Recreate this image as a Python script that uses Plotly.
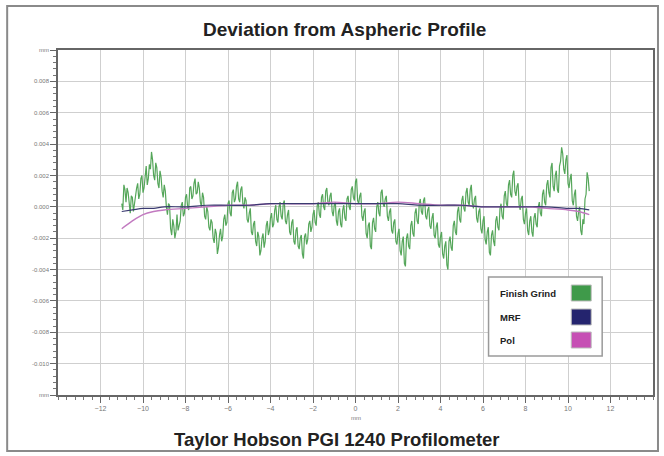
import numpy as np
import plotly.graph_objects as go

# Finish Grind deviation (mm), samples at -11.0, -10.9, ..., 11.0
finish_grind_a = [
    0.0002, 0.0014, 0.0003, 0.0009, -0.0004, 0.0006, 0.0002, 0.0012, 0.0005, 0.0018,
    0.0009, 0.0022, 0.0014, 0.0027, 0.0035, 0.0020, 0.0028, 0.0015, 0.0023, 0.0010,
    0.0014, 0.0000, 0.0002, -0.0014, -0.0008, -0.0020, -0.0005, -0.0012, 0.0001, -0.0006,
    0.0006, 0.0000, 0.0012, 0.0005, 0.0015, 0.0008, 0.0016, 0.0003, 0.0009, -0.0006,
    0.0000, -0.0013, -0.0008, -0.0020, -0.0014, -0.0030, -0.0018, -0.0022, -0.0008, -0.0012,
    0.0002, -0.0004, 0.0009, 0.0003, 0.0013, 0.0005, 0.0011, 0.0002, 0.0006, -0.0008,
    -0.0004, -0.0016, -0.0011, -0.0022, -0.0016, -0.0031, -0.0020, -0.0026, -0.0012, -0.0018,
    -0.0007, -0.0013, -0.0002, -0.0008, 0.0000, -0.0006, 0.0002, -0.0009, -0.0005, -0.0016,
    -0.0010, -0.0022, -0.0015, -0.0025, -0.0020, -0.0030, -0.0019, -0.0024, -0.0011, -0.0016,
    -0.0005, -0.0010, 0.0001, -0.0005, 0.0006, 0.0000, 0.0010, 0.0003, 0.0007, -0.0003,
    0.0001, -0.0009, -0.0003, -0.0011, -0.0002, -0.0007, 0.0005, 0.0000, 0.0011, 0.0006,
    0.0016, 0.0004, 0.0007, -0.0006, -0.0003, -0.0017, -0.0012, -0.0025, -0.0010, -0.0014,
    0.0000, -0.0004, 0.0009, 0.0002, 0.0005, -0.0006, -0.0003, -0.0015, -0.0010, -0.0022,
    -0.0017, -0.0028, -0.0022, -0.0036, -0.0020, -0.0025, -0.0012, -0.0017, -0.0004, -0.0009,
    0.0002, -0.0003, 0.0004, -0.0006, -0.0002, -0.0012, -0.0007, -0.0018, -0.0013, -0.0024,
    -0.0019, -0.0030, -0.0025, -0.0037, -0.0022, -0.0026, -0.0012, -0.0016, -0.0003, -0.0008,
    0.0004, -0.0001, 0.0009, 0.0003, 0.0011, 0.0002, 0.0005, -0.0007, -0.0003, -0.0014,
    -0.0009, -0.0021, -0.0016, -0.0029, -0.0018, -0.0022, -0.0009, -0.0013, -0.0001, -0.0006,
    0.0007, 0.0002, 0.0014, 0.0008, 0.0020, 0.0010, 0.0013, 0.0001, 0.0005, -0.0008,
    -0.0004, -0.0015, -0.0009, -0.0016, -0.0007, -0.0011, 0.0000, -0.0004, 0.0008, 0.0003,
    0.0014, 0.0009, 0.0025, 0.0013, 0.0020, 0.0011, 0.0026, 0.0038, 0.0024, 0.0030,
    0.0015, 0.0018, 0.0004, 0.0008, -0.0006, -0.0003, -0.0015, -0.0008, 0.0005, 0.0022,
    0.0010,
]
# Finish Grind deviation (mm), samples at -10.95, -10.85, ..., 10.95
finish_grind_b = [
    -0.0002, 0.0011, 0.0012, -0.0001, 0.0007, -0.0003, 0.0010, 0.0015, 0.0008, 0.0020,
    0.0012, 0.0026, 0.0018, 0.0024, 0.0030, 0.0017, 0.0025, 0.0012, 0.0019, 0.0006,
    0.0010, -0.0005, 0.0001, -0.0018, -0.0012, -0.0016, -0.0015, -0.0009, 0.0003, -0.0004,
    0.0008, -0.0002, 0.0013, 0.0007, 0.0018, 0.0009, 0.0012, 0.0000, 0.0006, -0.0008,
    -0.0003, -0.0015, -0.0010, -0.0023, -0.0017, -0.0026, -0.0014, -0.0019, -0.0005, -0.0010,
    0.0004, -0.0006, 0.0011, 0.0005, 0.0016, 0.0003, 0.0013, -0.0001, 0.0004, -0.0010,
    -0.0001, -0.0018, -0.0009, -0.0025, -0.0019, -0.0028, -0.0017, -0.0022, -0.0009, -0.0015,
    -0.0004, -0.0011, 0.0001, -0.0010, 0.0003, -0.0008, 0.0004, -0.0011, -0.0002, -0.0018,
    -0.0008, -0.0024, -0.0013, -0.0027, -0.0018, -0.0033, -0.0017, -0.0021, -0.0009, -0.0013,
    -0.0002, -0.0012, 0.0003, -0.0007, 0.0008, -0.0002, 0.0012, 0.0001, 0.0009, -0.0006,
    0.0003, -0.0012, -0.0001, -0.0013, 0.0001, -0.0009, 0.0007, -0.0002, 0.0013, 0.0004,
    0.0018, 0.0002, 0.0009, -0.0009, -0.0001, -0.0020, -0.0010, -0.0027, -0.0007, -0.0016,
    0.0003, -0.0006, 0.0011, 0.0000, 0.0007, -0.0009, -0.0001, -0.0017, -0.0008, -0.0024,
    -0.0014, -0.0031, -0.0019, -0.0038, -0.0017, -0.0027, -0.0009, -0.0019, -0.0001, -0.0011,
    0.0005, -0.0005, 0.0006, -0.0008, 0.0000, -0.0014, -0.0004, -0.0020, -0.0010, -0.0026,
    -0.0016, -0.0033, -0.0022, -0.0040, -0.0019, -0.0028, -0.0009, -0.0018, 0.0000, -0.0010,
    0.0007, -0.0003, 0.0012, 0.0001, 0.0014, -0.0001, 0.0007, -0.0010, -0.0001, -0.0017,
    -0.0006, -0.0024, -0.0013, -0.0031, -0.0015, -0.0025, -0.0006, -0.0015, 0.0002, -0.0008,
    0.0010, 0.0000, 0.0017, 0.0006, 0.0023, 0.0007, 0.0015, -0.0002, 0.0007, -0.0011,
    -0.0001, -0.0018, -0.0006, -0.0019, -0.0004, -0.0013, 0.0003, -0.0006, 0.0011, 0.0001,
    0.0017, 0.0006, 0.0028, 0.0010, 0.0023, 0.0009, 0.0029, 0.0034, 0.0021, 0.0033,
    0.0012, 0.0021, 0.0001, 0.0011, -0.0009, 0.0000, -0.0018, -0.0011, 0.0008, 0.0018,
]

# Smooth profiles (mm)
smooth_x = [-11.0, -10.5, -10.0, -9.5, -9.0, -8.0, -7.0, -6.0, -5.0, -4.0, -3.0, -2.0,
            -1.0, 0.0, 1.0, 2.0, 3.0, 4.0, 5.0, 6.0, 7.0, 8.0, 9.0, 10.0, 10.5, 11.0]
mrf = [-0.0003, -0.0002, -0.0001, -0.0001, 0.0000, 0.0000, 0.0001, 0.0001, 0.0001, 0.0002,
       0.0002, 0.0002, 0.0002, 0.0002, 0.0002, 0.0002, 0.0001, 0.0001, 0.0001, 0.0000,
       0.0000, 0.0000, 0.0000, -0.0001, -0.0001, -0.0002]
pol = [-0.0014, -0.0009, -0.0005, -0.0003, -0.0002, -0.0001, 0.0000, 0.0001, 0.0001, 0.0002,
       0.0002, 0.0002, 0.0003, 0.0002, 0.0002, 0.0003, 0.0002, 0.0001, 0.0001, 0.0000,
       0.0000, 0.0000, -0.0001, -0.0002, -0.0003, -0.0005]

x_ticks = [-12, -10, -8, -6, -4, -2, 0, 2, 4, 6, 8, 10, 12]
y_ticks = [0.010, 0.008, 0.006, 0.004, 0.002, 0.000, -0.002, -0.004, -0.006, -0.008, -0.010, -0.012]
y_ticktext = ["mm", "0.008", "0.006", "0.004", "0.002", "0.000", "-0.002", "-0.004",
              "-0.006", "-0.008", "-0.010", "mm"]

series_names = ["Finish Grind", "MRF", "Pol"]
series_colors = ["#3f9a4a", "#24246e", "#c64fb4"]

# interleave the two sample sets in x order
finish_grind = []
for a_val, b_val in zip(finish_grind_a, finish_grind_b):
    finish_grind += [a_val, b_val]
finish_grind.append(finish_grind_a[-1])
grind_x = np.linspace(-11, 11, len(finish_grind))

fig = go.Figure()
fig.add_trace(go.Scatter(x=grind_x, y=finish_grind, mode="lines",
                         line=dict(color="#55a65a", width=1.2), name=series_names[0],
                         showlegend=False, hoverinfo="skip"))
fig.add_trace(go.Scatter(x=smooth_x, y=pol, mode="lines", line_shape="spline",
                         line=dict(color="#c27ac0", width=1.4), name=series_names[2],
                         showlegend=False, hoverinfo="skip"))
fig.add_trace(go.Scatter(x=smooth_x, y=mrf, mode="lines", line_shape="spline",
                         line=dict(color="#3a3a70", width=1.2), name=series_names[1],
                         showlegend=False, hoverinfo="skip"))

L, R, T, B = 58, 9, 50, 61
W, H = 664, 456
pw, ph = W - L - R, H - T - B


def px(xp):
    return (xp - L) / pw


def py(yp):
    return (H - B - yp) / ph


shapes = [
    dict(type="rect", xref="paper", yref="paper", x0=px(7), x1=px(660), y0=py(451), y1=py(6),
         line=dict(color="#8a8a8a", width=2), layer="below"),
    dict(type="rect", xref="paper", yref="paper", x0=px(490), x1=px(604), y0=py(356), y1=py(277),
         line=dict(color="#9a9a9a", width=1.5), fillcolor="white", layer="above"),
]
annotations = [
    dict(text="<b>Deviation from Aspheric Profile</b>", xref="paper", yref="paper",
         x=px(345), y=py(30), yanchor="middle", showarrow=False,
         font=dict(size=19, color="#222", family="Liberation Sans, Arial, sans-serif")),
    dict(text="<b>Taylor Hobson PGI 1240 Profilometer</b>", xref="paper", yref="paper",
         x=px(338), y=py(440), yanchor="middle", showarrow=False,
         font=dict(size=18.5, color="#222", family="Liberation Sans, Arial, sans-serif")),
    dict(text="mm", xref="x", yref="paper", x=0, y=py(418), yanchor="middle",
         showarrow=False, font=dict(size=6, color="#777")),
]
legend_rows = [293, 317, 340]
for name, color, yr in zip(series_names, series_colors, legend_rows):
    annotations.append(dict(text="<b>" + name + "</b>", xref="paper", yref="paper",
                            x=px(499), y=py(yr), xanchor="left", yanchor="middle",
                            showarrow=False,
                            font=dict(size=9.5, color="#222",
                                      family="Liberation Sans Narrow, Arial Narrow, sans-serif")))
    shapes.append(dict(type="rect", xref="paper", yref="paper", x0=px(573), x1=px(593),
                       y0=py(yr + 8), y1=py(yr - 8), fillcolor=color,
                       line=dict(color="#bbb", width=1), layer="above"))

fig.update_layout(
    width=W, height=H, margin=dict(l=L, r=R, t=T, b=B),
    paper_bgcolor="white", plot_bgcolor="white",
    shapes=shapes, annotations=annotations,
    font=dict(family="Liberation Sans, Arial, sans-serif"),
)
fig.update_xaxes(range=[-14, 14], tickvals=x_ticks, ticks="outside", ticklen=6,
                 tickcolor="#666", showgrid=True, gridcolor="#cfcfcf", gridwidth=1,
                 showline=True, linecolor="#666", linewidth=1.5, mirror=True,
                 zeroline=False, tickfont=dict(size=7, color="#777"),
                 minor=dict(dtick=0.4, ticks="outside", ticklen=3, tickcolor="#777",
                            showgrid=False))
fig.update_yaxes(range=[-0.012, 0.010], tickvals=y_ticks, ticktext=y_ticktext,
                 ticks="outside", ticklen=6, tickcolor="#666", showgrid=True,
                 gridcolor="#cfcfcf", gridwidth=1, showline=True, linecolor="#666",
                 linewidth=1.5, mirror=True, zeroline=False,
                 tickfont=dict(size=6, color="#777"),
                 minor=dict(dtick=0.0004, ticks="outside", ticklen=3, tickcolor="#777",
                            showgrid=False))

fig.write_html("out.html", config={"displayModeBar": False},
               post_script="document.body.style.margin='0';document.body.style.overflow='hidden';")
